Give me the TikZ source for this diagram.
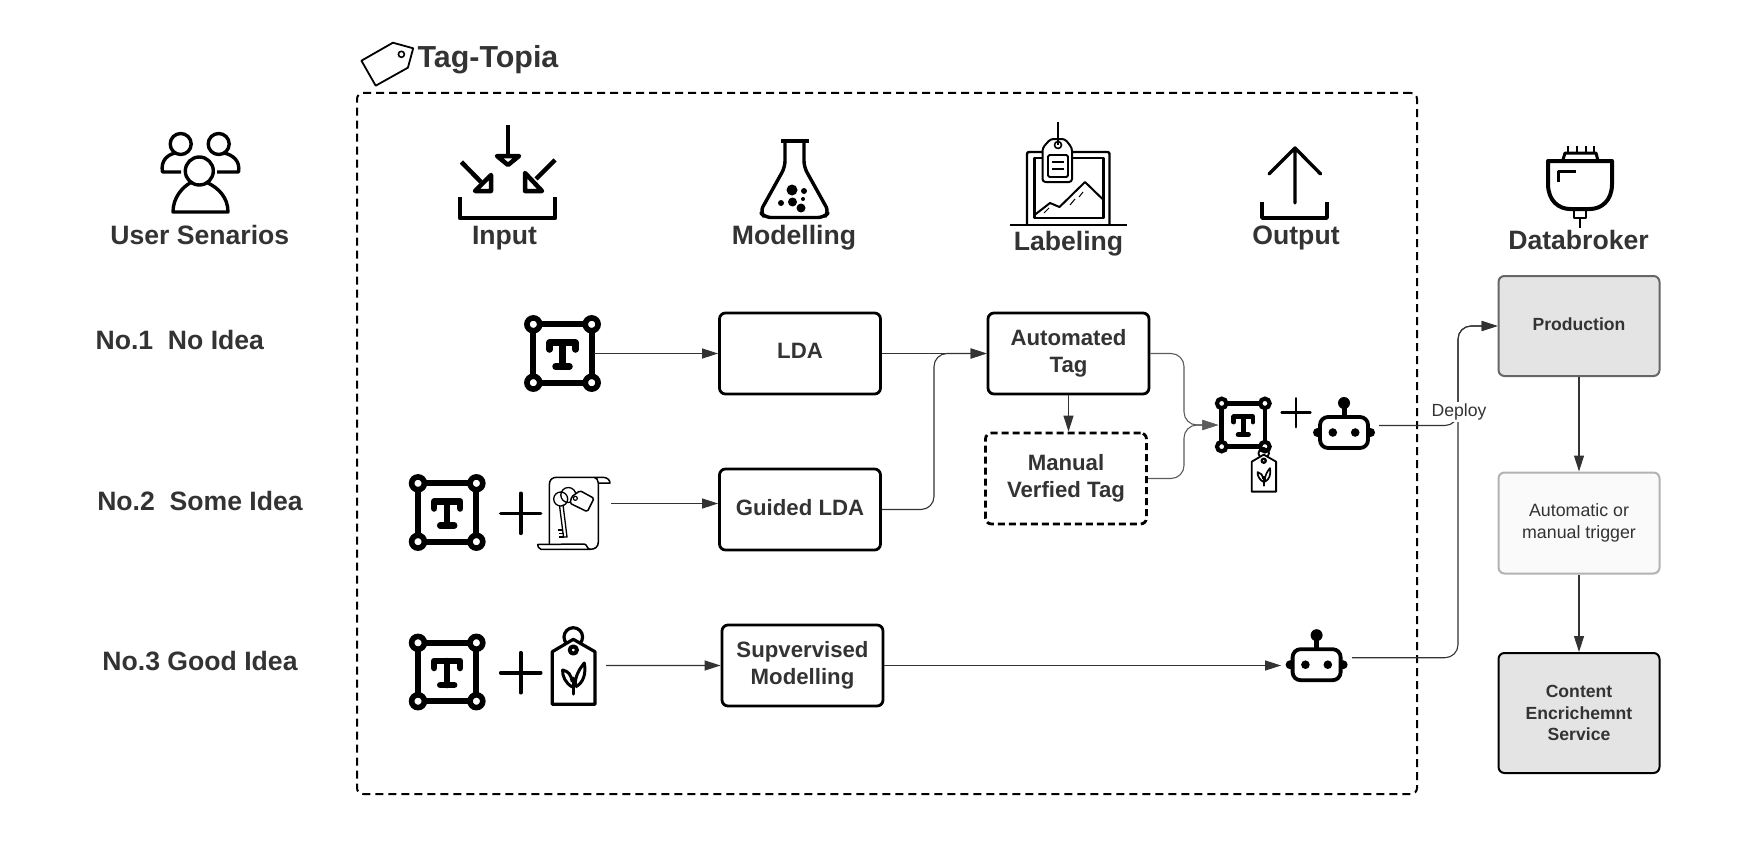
\documentclass[tikz,border=0pt]{standalone}
\usepackage{fontspec}
\setmainfont{Liberation Sans}
\usepackage{xcolor}
\usetikzlibrary{positioning, arrows.meta, calc}
\definecolor{labelgray}{HTML}{333333}
\definecolor{softgray}{HTML}{E4E4E4}

\tikzset{
    tframe/.pic={
        \begin{scope}[scale=#1, line width=#1*6pt]
            \draw (-29.2,-29.2) rectangle (29.2,29.2);
            \foreach \cx in {-29.2,29.2} {
                \foreach \cy in {-29.2,29.2} {
                    \draw[fill=white, line width=#1*5.6pt] (\cx,\cy) circle[radius=6.4];
                }
            }
            \draw[line width=#1*6.5pt, line cap=round, line join=round] (-13,-4) -- (-13,-11) -- (13,-11) -- (13,-4);
            \draw[line width=#1*6.5pt, line cap=round] (0,-11) -- (0,13) (-7,13) -- (7,13);
        \end{scope}
    },
    robot/.pic={
        \fill (-26.5,7) circle[radius=4.5] (26.5,7) circle[radius=4.5];
        \draw[line width=3.8pt, fill=white, rounded corners=8pt] (-24,-8.5) rectangle (24,22.5);
        \fill (-11.2,7) circle[radius=4.3] (11.2,7) circle[radius=4.3];
        \draw[line width=5pt] (0,-8.5) -- (0,-22);
        \fill (0,-22.5) circle[radius=6];
    },
    leaftag/.pic={
        \begin{scope}[scale=#1, line width=#1*3.2pt, line join=round]
            \draw (0,-13) circle[radius=9.3];
            \draw[fill=white] (-21,1.7) -- (0,-10.7) -- (21.7,1.7) -- (21.7,54.3) -- (-21,54.3) -- cycle;
            \draw[line width=#1*4pt] (0,0) circle[radius=3.6];
            \draw[line width=#1*3pt] (2,37) .. controls (1,26) and (7,18) .. (11,13) .. controls (13,24) and (10,33) .. (2,37);
            \draw[line width=#1*3pt] (-1,37) .. controls (-8,33) and (-11,26) .. (-10.7,20) .. controls (-5,21) and (-2,25) .. (-1,32);
            \draw[line width=#1*3pt, line cap=round] (0,28) -- (0,44);
        \end{scope}
    },
    plusmark/.pic={
        \draw[line width=#1*3.6pt, line cap=round] (-#1*20,0) -- (#1*20,0) (0,-#1*20) -- (0,#1*20);
    }
}

\begin{document}
\begin{tikzpicture}[
        x=1pt, y=-1pt,
        title/.style={font=\fontsize{26.6pt}{30pt}\selectfont\bfseries, text=labelgray, inner sep=0pt},
        box/.style={
            draw,
            rounded corners=6pt,
            line width=2.8pt,
            minimum height=81pt,
            minimum width=161pt,
            inner sep=0pt,
            align=center,
            text=labelgray,
            font=\fontsize{22.2pt}{27pt}\selectfont\bfseries
        },
        service/.style={
            draw=#1,
            rounded corners=6pt,
            minimum width=161pt,
            inner sep=0pt,
            align=center,
            text=labelgray,
            font=\fontsize{17.6pt}{21.3pt}\selectfont\bfseries
        },
        slot/.style={inner sep=0pt, outer sep=0pt, minimum size=#1},
        arrow/.style={-{Triangle[length=16pt, width=10pt]}, line width=1.1pt, draw=labelgray, fill=none, color=labelgray},
        icon/.style={line width=#1, line join=round}
    ]

    \useasboundingbox (0,0) rectangle (1760,856);

    \node[draw, dashed, dash pattern=on 8pt off 5pt, line width=2pt, rounded corners=6pt, minimum width=1060pt, minimum height=701pt] (tagtopia) at (887,443.5) {};
    \draw[icon=1.8pt] (361.4,60.7) -- (392.9,42.7) -- (413.2,48.3) -- (407.9,67.7) -- (375.7,85.7) -- cycle;
    \draw[icon=1.6pt] (401.4,54.3) circle[radius=3];
    \node[title, font=\fontsize{30.4pt}{32pt}\selectfont\bfseries] (brand) at (488,59.4) {Tag-Topia};

    \node[title] (scenarios) at (199.8,234.6) {User Senarios};
    \node[title] (inputlabel) at (504.5,238) {Input};
    \node[title] (modellabel) at (794,238) {Modelling};
    \node[title] (labelinglabel) at (1068.5,243.4) {Labeling};
    \node[title] (outputlabel) at (1296,238) {Output};
    \node[title] (brokerlabel) at (1578.5,240) {Databroker};

    \node[title] (ideaone) at (179.8,340) {No.1\ \ No Idea};
    \node[title] (ideatwo) at (200,500.6) {No.2\ \ Some Idea};
    \node[title] (ideathree) at (200,661) {No.3 Good Idea};

    \draw[icon=3.4pt] (180.7,144) circle[radius=10.5] (218.7,144) circle[radius=10.5];
    \draw[icon=3.4pt] (181,172) -- (162.5,172) .. controls (160.5,161) and (167,155) .. (175,153);
    \draw[icon=3.4pt] (217,172) -- (238.5,172) .. controls (240.5,161) and (233,155) .. (224,153);
    \draw[icon=3.4pt, fill=white] (173,212) .. controls (173,197) and (183,187) .. (190,183) -- (208,183) .. controls (218,188) and (228,197) .. (228,212) -- cycle;
    \draw[icon=3.4pt, fill=white] (199.3,171) circle[radius=14];

    \draw[icon=4.5pt] (508,125) -- (508,156);
    \draw[icon=4.5pt, fill=white] (497,156) -- (519,156) -- (508,165) -- cycle;
    \draw[icon=4.5pt] (461.4,162) -- (481,182);
    \draw[icon=4.5pt, fill=white] (491,175) -- (491,191) -- (475,191) -- cycle;
    \draw[icon=4.5pt] (555,160) -- (536,179);
    \draw[icon=4.5pt, fill=white] (525,173) -- (525,191) -- (542,191) -- cycle;
    \draw[icon=4.8pt] (460,197) -- (460,218) -- (555,218) -- (555,197);

    \draw[icon=3.4pt] (781,141) -- (809,141);
    \draw[icon=3.4pt, rounded corners=6pt] (785,141) -- (785,167) -- (760,212) -- (765,217.5) -- (824,217.5) -- (829,212) -- (804,167) -- (804,141);
    \fill (792,190) circle[radius=5.5] (804,191) circle[radius=3] (792.5,202) circle[radius=4.5] (781,203) circle[radius=3] (801,208) circle[radius=4.5] (803,199) circle[radius=2];

    \draw[icon=1.8pt] (1010,225) -- (1127,225);
    \draw[icon=2.4pt, rounded corners=2pt] (1027,225) -- (1027,152) -- (1109.5,152) -- (1109.5,225);
    \draw[icon=2.4pt] (1034.5,158) rectangle (1103.5,218);
    \draw[icon=2pt] (1034.5,215) -- (1050,203) -- (1059.5,207) -- (1085,182) -- (1103.5,200);
    \draw[icon=1pt] (1044,213) -- (1049,208) (1070,205) -- (1075,199) (1079,197) -- (1083,192);
    \draw[icon=2pt, fill=white, rounded corners=3pt] (1042.5,148) -- (1050.5,139) -- (1065,139) -- (1072,148) -- (1072,182) -- (1042.5,182) -- cycle;
    \draw[icon=1.8pt, rounded corners=1.5pt] (1048,155) rectangle (1068,177);
    \draw[icon=1.6pt] (1052,162) -- (1063.5,162) (1052,169) -- (1063.5,169);
    \draw[icon=1.8pt] (1058,122) -- (1058,145);
    \draw[icon=1.6pt] (1058,145) circle[radius=3.5];

    \draw[icon=3.4pt, line cap=round] (1295,203) -- (1295,148) (1269,174) -- (1295,148) -- (1320.6,174);
    \draw[icon=3.6pt] (1262,202) -- (1262,218) -- (1327,218) -- (1327,202);

    \draw[icon=4pt] (1548,161) -- (1612,161) -- (1612,184) .. controls (1612,201) and (1601,209) .. (1590,209) -- (1570,209) .. controls (1559,209) and (1548,201) .. (1548,184) -- cycle;
    \draw[icon=3pt] (1562.6,161) -- (1565,153) -- (1596,153) -- (1598,161);
    \draw[icon=2.6pt] (1568,146) -- (1568,153) (1577,146) -- (1577,153) (1586,146) -- (1586,153) (1594,146) -- (1594,153);
    \draw[icon=3pt] (1558,182) -- (1558,171.5) -- (1576,171.5);
    \draw[icon=2.8pt] (1574,209) -- (1574,218) -- (1586,218) -- (1586,209);
    \draw[icon=2.6pt] (1580,218) -- (1580,228);

    \node[slot=63pt] (textone) at (562.5,353.5) {};
    \node[slot=63pt] (texttwo) at (447.2,512.5) {};
    \node[slot=63pt] (textthree) at (447.2,672) {};
    \node[slot=50pt] (textmerged) at (1243.3,425) {};
    \node[slot=74pt] (keyscroll) at (574,503.5) {};
    \node[slot=65.4pt] (seedtag) at (573.3,665.5) {};
    \node[slot=70pt] (robotone) at (1344,425.5) {};
    \node[slot=71pt] (robottwo) at (1316.6,657.7) {};

    \pic at (textone) {tframe=1};
    \pic at (texttwo) {tframe=1};
    \pic at (textthree) {tframe=1};
    \pic at (textmerged) {tframe=0.74};
    \pic at (520.7,513.3) {plusmark=1};
    \pic at (520.7,672.7) {plusmark=1};
    \pic at (1296,412.7) {plusmark=0.72};
    \pic at (573.3,650) {leaftag=1};
    \pic at (1263.7,460.7) {leaftag=0.57};
    \pic at (robotone) {robot};
    \pic at (robottwo) {robot};

    \draw[icon=1.5pt] (549.3,544) -- (549.3,485) .. controls (549.3,480) and (552,477.3) .. (556.7,477.3) -- (603,477.3) .. controls (607,477.3) and (610,480) .. (610,483) -- (598.3,483) .. controls (598,480) and (597,478) .. (594,477.3);
    \draw[icon=1.5pt] (598.3,483) -- (598.3,542) .. controls (598.3,547) and (595,549.3) .. (590,549.3) -- (541,549.3) .. controls (538.5,549) and (537.7,546) .. (537.7,544.5) -- (584,544) .. controls (587,544) and (587,549) .. (590,549.3);
    \draw[icon=1.3pt] (560.7,499) circle[radius=7] (568.3,495) circle[radius=7.5];
    \draw[icon=1.3pt] (559.5,505.5) -- (563.5,537) (563,504.5) -- (567,537) -- (563.5,537);
    \draw[icon=1.3pt] (563,530) -- (558,530) (563.5,533.5) -- (559,533.5) (564,537) -- (559,537);
    \draw[icon=1.5pt, fill=white, rounded corners=1.5pt] (580,490.7) -- (594,498.3) -- (587.3,511.7) -- (570,503.3) -- (571.7,496.7) -- cycle;
    \draw[icon=1.2pt] (575.3,498.3) circle[radius=2];

    \node[box, text depth=5pt] (lda) at (800,353.5) {LDA};
    \node[box, text depth=5pt, below=72.2pt of lda] (guided) {Guided LDA};
    \node[box, below=72.2pt of guided, xshift=2.5pt] (supervised) {Supvervised\\Modelling};
    \node[box, right=104.7pt of lda] (automated) {Automated\\Tag};
    \node[box, dashed, dash pattern=on 7pt off 4pt, below=36.2pt of automated, xshift=-2.5pt, minimum height=91pt] (manual) {Manual\\Verfied Tag};

    \node[service=black!60, fill=softgray, line width=2pt, minimum height=100pt, text depth=4pt] (production) at (1579,326) {Production};
    \node[service=black!30, fill=black!2, line width=2pt, minimum height=101pt, below=94.5pt of production, font=\fontsize{17.8pt}{21.3pt}\selectfont] (trigger) {Automatic or\\manual trigger};
    \node[service=black, fill=softgray, line width=2pt, minimum height=120pt, below=77.5pt of trigger] (content) {Content\\Encrichemnt\\Service};

    \coordinate (guidedbend) at (934,353.5);
    \coordinate (mergepoint) at (1184,425);
    \coordinate (deploybus) at (1458,326);
    \coordinate (scrollout) at (keyscroll.east);

    \draw[arrow] (textone) -- (lda);
    \draw[arrow] (scrollout) -- (scrollout -| guided.west);
    \draw[arrow] (seedtag) -- (supervised);
    \draw[arrow] (lda) -- (automated);
    \draw[arrow, rounded corners=13pt] (guided.east) -| (guidedbend) -- (automated.west);
    \draw[arrow] (automated.south) -- (automated.south |- manual.north);
    \draw[arrow, rounded corners=13pt, draw=labelgray!80] (automated.east) -| (mergepoint) -- (textmerged.west);
    \draw[arrow, rounded corners=13pt, draw=labelgray!80] (manual.east) -| (mergepoint) -- (textmerged.west);
    \draw[arrow] (supervised.east) -- (supervised.east -| robottwo.west);
    \draw[arrow, rounded corners=13pt] (robottwo.east) -| (deploybus) -- (production.west);
    \draw[arrow, rounded corners=13pt] (robotone.east) -| (deploybus) -- (production.west);
    \draw[arrow] (production) -- (trigger);
    \draw[arrow] (trigger) -- (content);

    \node[fill=white, inner sep=1.5pt, text=labelgray, font=\fontsize{17.6pt}{20pt}\selectfont] (deploy) at (1459,412) {Deploy};

\end{tikzpicture}
\end{document}
